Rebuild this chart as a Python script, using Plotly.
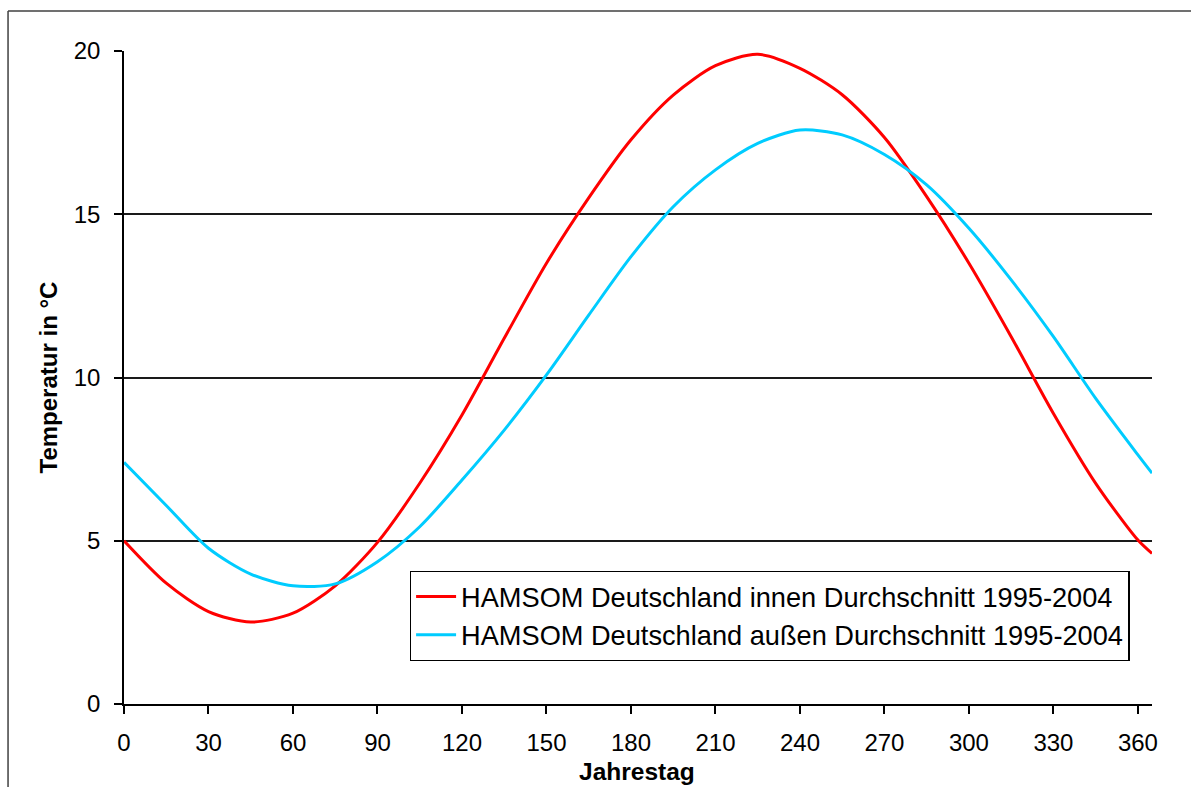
import plotly.graph_objects as go

days = [0, 15, 30, 45, 60, 75, 90, 105, 120, 135, 150, 165, 180, 195, 210, 225,
        240, 255, 270, 285, 300, 315, 330, 345, 360, 365]
innen = [5.0, 3.70, 2.83, 2.51, 2.78, 3.62, 4.95, 6.76, 8.85, 11.2, 13.5, 15.5,
         17.28, 18.65, 19.55, 19.9, 19.47, 18.66, 17.35, 15.54, 13.5, 11.25, 8.90,
         6.76, 5.02, 4.61]
aussen = [7.40, 6.08, 4.77, 3.98, 3.62, 3.68, 4.36, 5.43, 6.86, 8.39, 10.08, 11.91,
          13.7, 15.23, 16.36, 17.17, 17.58, 17.43, 16.83, 15.9, 14.57, 12.99, 11.25,
          9.36, 7.63, 7.07]
name_innen = "HAMSOM Deutschland innen Durchschnitt 1995-2004"
name_aussen = "HAMSOM Deutschland außen Durchschnitt 1995-2004"
x_title = "Jahrestag"
y_title = "Temperatur in °C"
x_ticks = list(range(0, 361, 30))
y_ticks = [0, 5, 10, 15, 20]

FONT = "Liberation Sans, Arial, sans-serif"

fig = go.Figure()
fig.add_trace(go.Scatter(x=days, y=innen, mode="lines", name=name_innen,
                         line=dict(color="#FF0000", width=3, shape="spline", smoothing=0.8)))
fig.add_trace(go.Scatter(x=days, y=aussen, mode="lines", name=name_aussen,
                         line=dict(color="#00CCFF", width=3, shape="spline", smoothing=0.8)))

fig.update_layout(
    width=1191, height=787,
    margin=dict(l=124, r=39, t=51, b=83, autoexpand=False),
    paper_bgcolor="white", plot_bgcolor="white",
    font=dict(family=FONT, size=24, color="black"),
    showlegend=True,
    legend=dict(x=0.278, y=0.2037, xanchor="left", yanchor="top",
                bgcolor="white", bordercolor="black", borderwidth=1.3,
                font=dict(family=FONT, size=27.2, color="black"),
                itemwidth=40, tracegroupgap=0),
    xaxis=dict(range=[0, 365], tickvals=x_ticks, ticks="outside", ticklen=8,
               tickcolor="black", tickwidth=1.5, showline=True, linecolor="black",
               linewidth=1.6, showgrid=False, zeroline=False, automargin=False,
               ticklabelstandoff=8),
    yaxis=dict(range=[0, 20], tickvals=y_ticks, ticks="outside", ticklen=8,
               tickcolor="black", tickwidth=1.5, showline=True, linecolor="black",
               linewidth=1.6, showgrid=True, gridcolor="#1a1a1a", gridwidth=1.6,
               zeroline=False, automargin=False, ticklabelstandoff=9),
    annotations=[
        dict(text="<b>" + x_title + "</b>", xref="paper", yref="paper", x=0.499, y=-0.1041,
             xanchor="center", yanchor="middle", showarrow=False,
             font=dict(family=FONT, size=24.5, color="black")),
        dict(text="<b>" + y_title + "</b>", xref="paper", yref="paper", x=-0.073, y=0.5,
             xanchor="center", yanchor="middle", textangle=-90, showarrow=False,
             font=dict(family=FONT, size=24, color="black")),
    ],
    shapes=[
        dict(type="line", xref="paper", yref="paper", x0=-0.1128, x1=1.1, y0=1.0613, y1=1.0613,
             line=dict(color="#404040", width=1.5)),
        dict(type="line", xref="paper", yref="paper", x0=-0.1128, x1=-0.1128, y0=1.0613, y1=-0.2,
             line=dict(color="#404040", width=1.5)),
    ],
)

fig.write_html("out.html")
